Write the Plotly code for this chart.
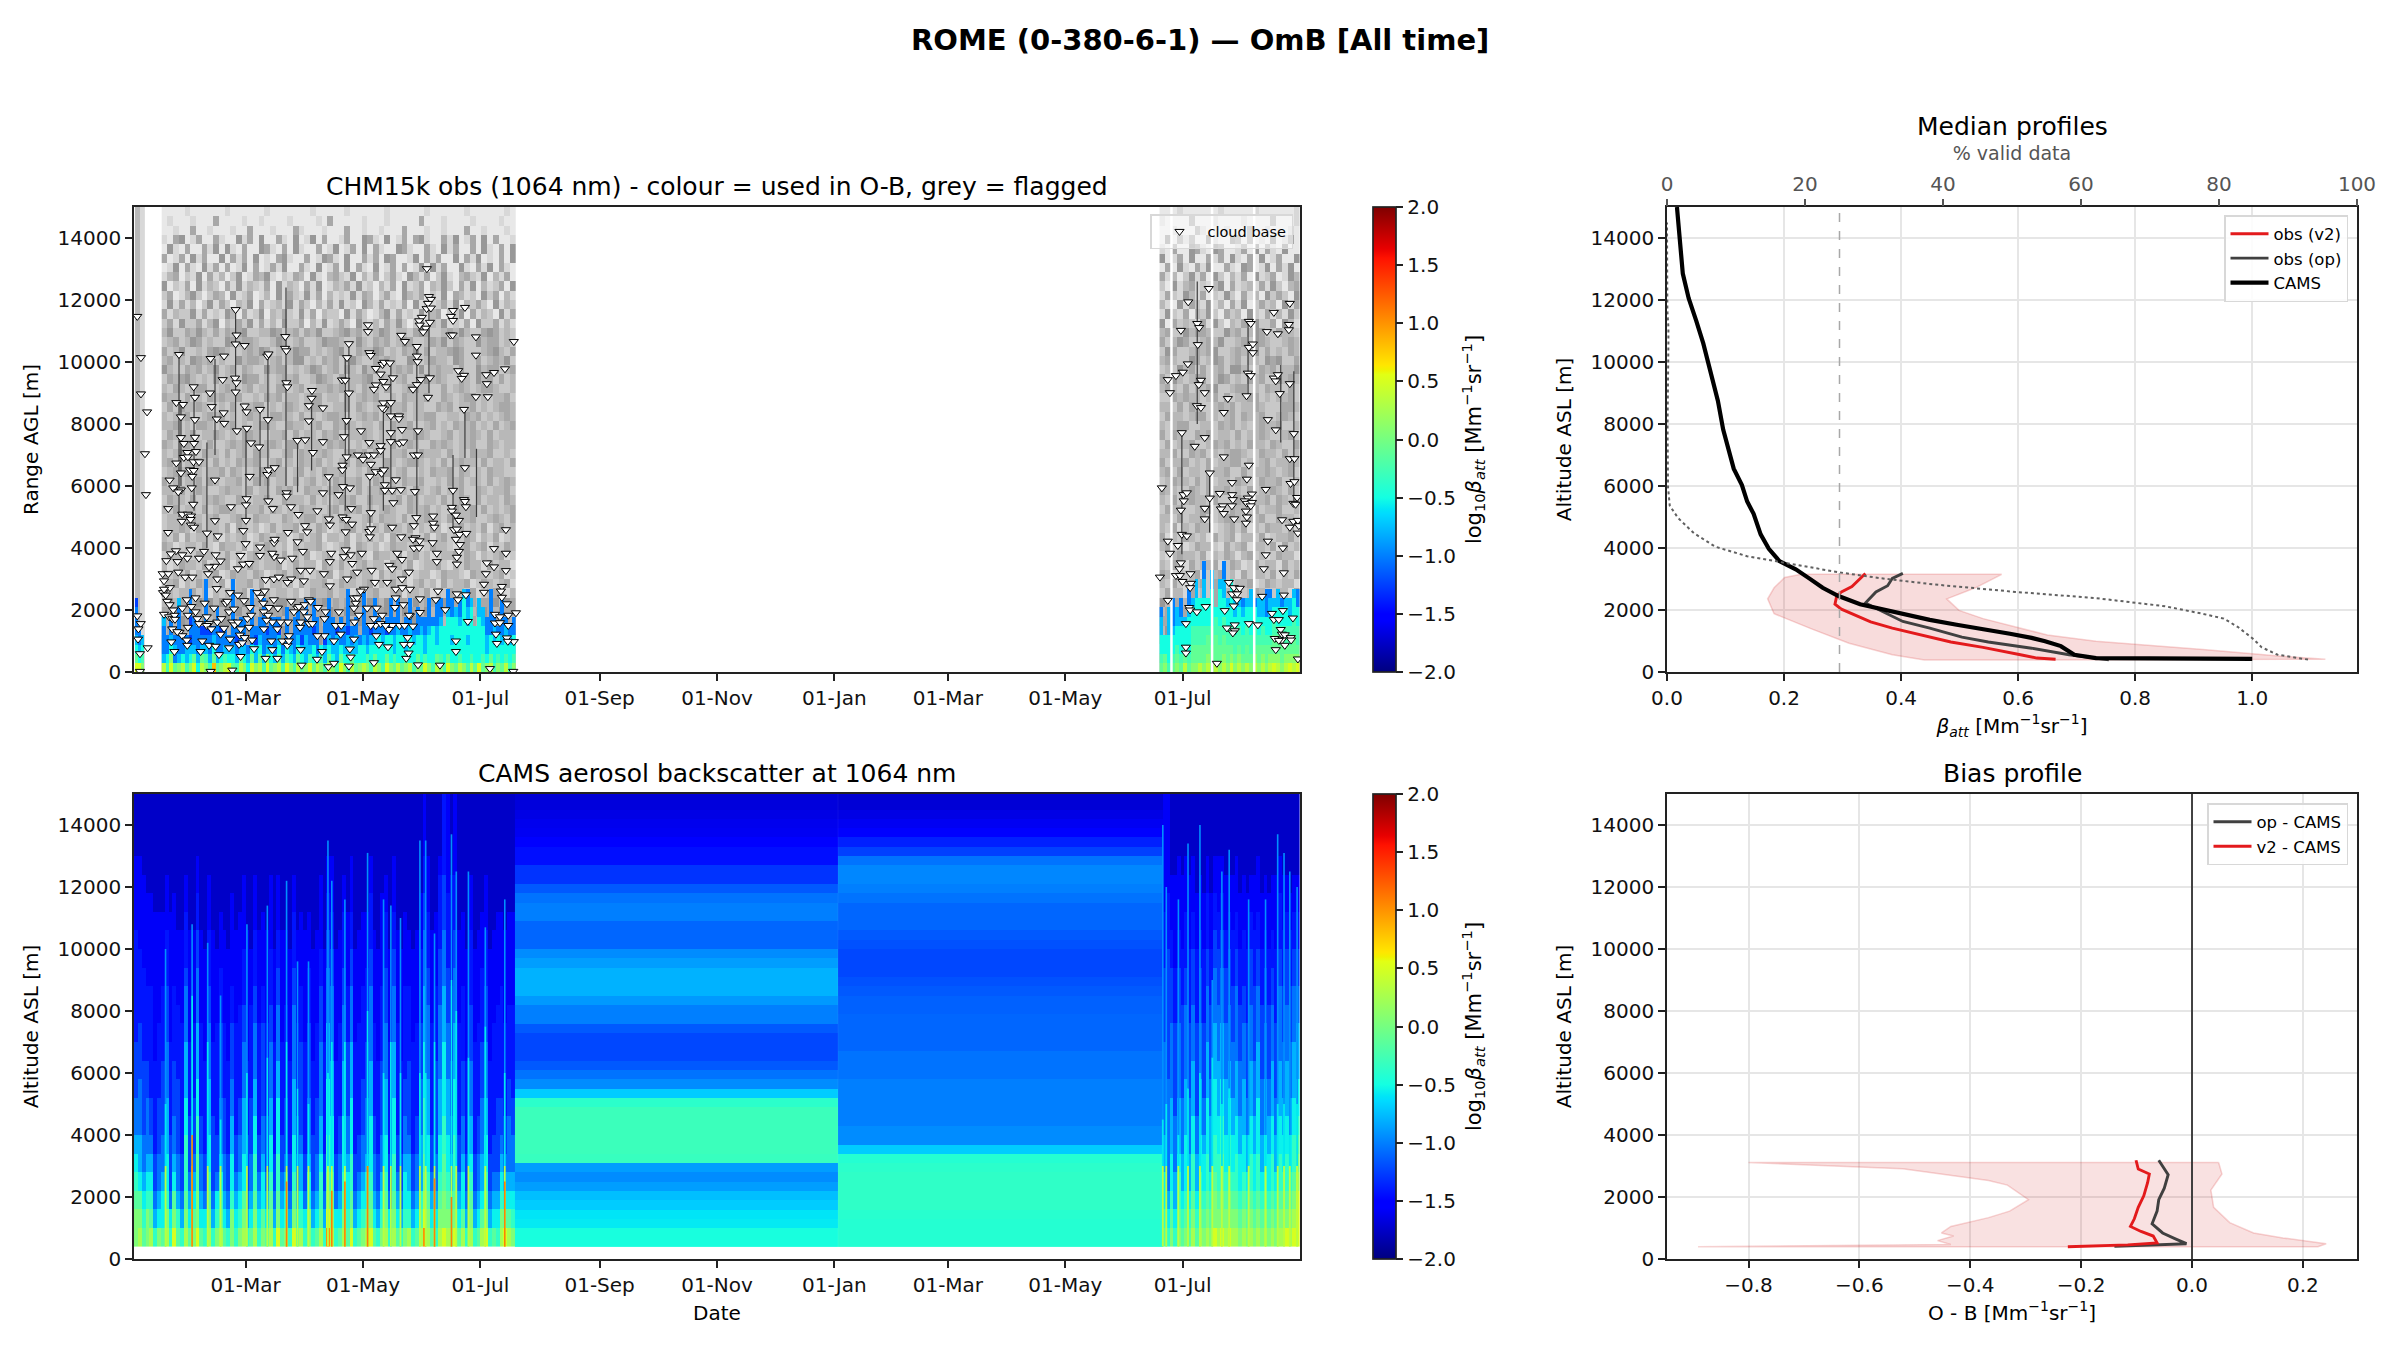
import pandas as pd
import plotly.graph_objects as go

# the page keeps its 8 px body margin, so the figure is drawn that much smaller
PAGE_W, PAGE_H, BODY = 2400, 1350, 8
W, H = PAGE_W - 2 * BODY, PAGE_H - 2 * BODY
START = pd.Timestamp("2022-01-02")
END = pd.Timestamp("2023-08-31")

DATE_TICKS = ["2022-03-01", "2022-05-01", "2022-07-01", "2022-09-01", "2022-11-01",
              "2023-01-01", "2023-03-01", "2023-05-01", "2023-07-01"]
ALT_TICKS = [0, 2000, 4000, 6000, 8000, 10000, 12000, 14000]
CBAR_TICKS = [-2.0, -1.5, -1.0, -0.5, 0.0, 0.5, 1.0, 1.5, 2.0]

# log10 beta codes used in the column strings below
USED_CODES = dict(zip("0123456789abc",
                      [-2.0, -1.75, -1.5, -1.25, -1.0, -0.75, -0.5, -0.25, -0.1, 0.1, 0.35, 0.5, 0.8]))
CAMS_CODES = dict(zip("0123456789abc",
                      [-1.75, -1.58, -1.42, -1.25, -1.05, -0.8, -0.55, -0.35, -0.15, 0.05, 0.25, 0.5, 1.0]))

# flagged obs, grey shade, 300 m cells, estimated by eye: first 62 chars Jan-Jul block, last 24 the second summer
# rows go bottom to top
grey_rows = [
    "43544354534435445345344553434544353454435345434553443543544534" "354435443534455343543545",
    "35434544354345534543543445353445435354453434554345354434535443" "453543454354345544353443",
    "44353543445354434535443543453544345543435534453543454435345354" "344535344545343534454354",
    "53443454353445345344553434454354345435543445345453434535443453" "543454453435443545343454",
    "34543543544343553443454535344354534434554354343545445343543544" "354354345544353443545434",
    "43354435345534434543534454343545435443534345544353435443545343" "445343534454345353444535",
    "44533543443545343534454353443543553443454354435344535434543544" "343545443534554343544353",
    "35344354535434544343553443545343445354353443534455343543445354" "534434535443545345343454",
    "33233423132323412332332312433423313234223413324132433241234313" "243314232433412343223314",
    "23413243324123342413323142334124332341324231342314233412432341" "324213342431233412432331",
    "42324132341243324312342431233413242331423241233124332143323412" "431323412342314233241324",
    "31243324123413243233412423314324213423314324123342132433142331" "324314233412431242331423",
    "24331243312423134233241324123413324214332413423123342431323412" "213433241324313423124331",
    "43123324214332413243231423342123414323124332412433213423413243" "342312433214234133241423",
    "32414233241323412432331242341332413242314233124134232431324123" "413243231423413324123342",
    "23343142332414323124233413243123442313243324132431234232413423" "324132433123424132433241",
    "23342432342234324332243234423324322342433242234332423342234324" "332423342234432334224332",
    "32423324234432233424323243322342434232343224334232243342423234" "243322344232433242334223",
    "24332423343224323342243332423234342243323424323324234324233243" "324234332422343233424324",
    "33242343223433242332434224332343224233434232432342334224323342" "433224324334232423343242",
    "42323342432334224342332423423243334224323243342232434233242343" "234332424233243224334223",
    "23434232334243223424332342324334223243342342232433424323243322" "342423324334224233432342",
    "34223343242324334223423243342323424332243234432324234332423324" "423342324233442323423343",
    "32343224332423424332234243234322343424323342243332423243342232" "334224342323443224332423",
    "43234332422343423234324423332434223243324234322434323342243233" "242334223434232433243224",
    "24323423343232443223342423324342233432324233443223423343242333" "424322434233242334322342",
    "33423244323342323443224332342243432332424334223423243342324234" "323442233243423234334223",
    "32334223434232343224433242323443223434232432334422332434232343" "243323442323424334223432",
    "24243343223242334423234323442233424323243342332243423342323443" "332424322343423343222443",
    "43324232434334223243423323442332423434223243334224323442323342" "224343323424233442323342",
    "32432344223432342332442342233434232433242234433224234323443223" "343242334522344232433242",
    "24345323242332544232343422354324233452432342235343224325342423" "425323442354232434225343",
    "53224342352342432253442323542342432534223434252343324225344234" "232534242342553224342335",
    "34232543423225344323423552324342353224343225423433254224234352" "343225423542342332545224",
    "42352232454322343542323544232345224335423243524233454222345324" "254223434522343352423243",
    "23423542322543443223542342235443225324342354223435243225344232" "423542234352234254322343",
    "35224353242434522335423424352234534223542332454223435322454232" "342253443225342354224332",
    "24152241350324251413152240315124205213142520240325121405224131" "504232141520324152240531",
    "41322514121530412503242151403220514201351412151340225041320514" "152140325204230521413152",
    "15141302514203250412315142031415120531412140513124150324205132" "310514215130415024230514",
    "24013520243051240130514215140312151430241053240215043120524031" "142153140215204130524205",
    "50214051320415132140513204150132415120314051240325204150312405" "205134121350412314152034",
    "13402150413025014351021430510342150314024105314025103421503140" "413025140520314051240153",
    "01504105140401504014150041050140504105014040150514005104150410" "040510415004105401504150",
    "40140514005041405010451004015410500414054001504140050415010405" "501405004140510405014005",
    "05104004150510400541040510040150140504100541004105140040510405" "104005410540014050410500",
    "10450140041005140500410501504001400541050140451004150140504001" "050414005100540401050140",
    "00100400100010040001000410001000400100100040001001000400100010" "001000410001000400100010",
    "01000100040000100100001000010400000100010000040001000010000100" "100004000100001000040001",
    "00001000000100000010000000100000100000010000001000000100000010" "000100000010000010000001",
]
# used obs, colour code by column, bottom to top, 300 m cells; the rest stays grey
used_stub = ["b8654443", "b6544", "9765"]
used_a = [
    "a54445", "7644", "b96544", "8454", "95444445", "a644", "7554", "965343444",
    "b85444", "65444", "a8543", "9754344444", "75443", "c8654", "8544444", "96443",
    "a7544", "b654", "8654444444", "75434", "a85444", "965344", "654", "b86444444",
    "95534", "a86544", "75444444", "b9543", "865444", "954444", "a86534", "754",
    "b764444", "9654", "754444", "a865444", "86534", "95554444", "b7544", "86643444",
    "a54444", "976", "755344", "a8654444", "965444", "75553", "b86444", "96544",
    "765534444", "a8544", "865544", "9664", "a66544444", "97544", "76653", "a8654444",
    "966644", "76654", "b86634", "96664444", "875544", "a6665444", "86664", "975544",
    "a6665444", "76654", "9866444", "866654", "b75544", "96665444", "766664", "a8655444",
    "97666544", "76666", "b86666544", "96656644", "8666665", "a7666544", "966666665", "766565544",
    "a7666665", "86666", "b6666655", "8766655", "965544", "a86644444", "766554", "97664",
    "86654444", "a76654", "76654", "976644",
]
used_b = [
    "8766554", "9866", "7666555", "87665444", "9876655", "87666544", "a87665", "876666544",
    "98877665", "9887766655", "a8877666", "988776665544", "a9887666", "98877666655", "a888776", "9887766665",
    "a98877665544", "98877665", "b987766666", "98776655", "a9877665", "98776654", "a8877665", "987766655",
    "a9877664", "98876655", "a9877655", "988766444", "a98766554", "b9887765", "a98876655", "98877664",
    "a9877665", "b9877655", "a98877665", "b98776644",
]
# dark columns seen below clouds: day, bottom and top altitude in m
streak_day = [23.4, 24.4, 31.2, 37.9, 42.1, 52.8, 58.2, 65.5, 69.6, 79.0, 85.0, 92.3, 101.8, 109.8, 111.7, 122.6, 129.6,
              133.5, 147.0, 153.3, 165.8, 172.0, 178.0, 544.6, 552.6, 559.0, 579.0, 596.0, 602.8]
streak_bot = [5000, 6000, 5200, 4000, 7000, 7800, 4800, 6000, 5500, 6000, 5800, 6500, 4800, 5200, 7000, 4500, 5200,
              5800, 4800, 9000, 4500, 6900, 5000, 3800, 8000, 4500, 8900, 7400, 5500]
streak_top = [10200, 8700, 9200, 7400, 10100, 11700, 7800, 8500, 10200, 12400, 7400, 8900, 6300, 10100, 10600, 6300, 8700,
              10000, 10500, 12100, 7000, 8500, 7200, 7700, 12600, 6400, 11300, 9900, 9700]
white_days = [6.3, 539.2, 560.3, 582.2]
# CAMS noisy blocks, code by column, bottom to top, 600 m cells from 400 m
cams_a = [
    "9987654433322222211110", "a986554443332222111110", "8765443333222221111100", "9976544433222211111000",
    "a876543322222211111000", "7543322222111111110000", "9654433322221111110000", "8665443333222211110000",
    "a976655544433322211100", "7643332222211111110000", "b986544333222211111000", "8754433332222111100000",
    "7543322222221111100000", "a987776655544432221100", "8654333222211111100000", "9865433322221111100000",
    "b998877665554443322110", "8654433222221111100000", "7643322222111111000000", "a987665554443322211100",
    "7543333222211111100000", "9764332222221111000000", "a876544433332221110000", "8654433322221111100000",
    "7543322222111111000000", "9976655443332211111000", "7654332222221111100000", "9765443322222111110000",
    "a986655544433222111100", "7543332222111111100000", "8654433322222111000000", "a987766554443322211100",
    "7654332222221111100000", "9866544333332211110000", "8654333222221111100000", "a987665544433222111100",
    "7543322222211111000000", "b987766655444332211100", "8654332222211111100000", "9765433322222111100000",
    "7543322222111111000000", "b987665554444332221100", "8654433222221111100000", "a765543333322211110000",
    "7643322222211111100000", "9966544433332221110000", "7543332222111111000000", "8654433322221111100000",
    "a877655444433322111100", "7543322222211111000000", "cb98776665554443322110", "a987666555444433221110",
    "7643322222111111000000", "8654433222221111100000", "a987666555444332221100", "8766544333322211110000",
    "b987766655544433221110", "7543322222211111000000", "8654332222221111100000", "9765443332222211110000",
    "a866544433322221110000", "b987666555444433222110", "8654433222221111100000", "7543322222111111000000",
    "9765443333222211111000", "a987665554443332221100", "7643322222211111000000", "a987766655544433221110",
    "8654332222221111100000", "7543322222111111000000", "9766544332222211110000", "a765543333222211100000",
    "7543322222211111000000", "8654433222221111100000", "a875554443332222111000", "cba9877766655544433221",
    "a987665554444332221110", "8654332222221111100000", "7654433333222211110000", "a987665554444333222210",
    "b998877666655544433322", "a987665554443332222111", "9765544333222211111100", "b987776665554443322211",
    "8654332222221111100000", "a866544333222211110000", "7543322222111111000000", "a987655444333222211100",
    "7543322222211111000000", "8654433222221111100000", "a865544433322221110000", "b987665544433322211100",
    "7543322222111111000000", "8654332222221111100000", "7654333322222111110000", "a976543322222211110000",
    "b865433222221111100000", "a865444332222111110000", "9765443322222111110000",
]
cams_b = [
    "8766554444433332221111", "7654444443333333222111", "9876655544443332211100", "7655444333332221111100",
    "9877655544443332211110", "8765544433333222111100", "9876665554444332221110", "8765544433332222111100",
    "a987766555444333221110", "8765544333332222111000", "a987665554443332211100", "9876654433332222111000",
    "a987766655544433222110", "9876555443333222111000", "b998776665554443322110", "a987766555444333221110",
    "b998877665554443322110", "a987665554443332211100", "b998776655444333221100", "a987665544433322211100",
    "a987766555444433221110", "9876655444333222111000", "a987665554443322211100", "9876554433332222111000",
    "a987766555444333221100", "9876655444333322211100", "a987766655544433221110", "9876554443333222111000",
    "a987665554443332211100", "9876655443333222111000", "a987766555444332211100", "9876554433332222111100",
    "a987766555444433222110", "a987665544433322211100", "b987766555444333221100", "a987665544433322211000",
    "ba98776655544433221100", "bbba987665554433221100",
]
# thin CAMS plumes: day, top of the bright part and top of the whole plume in m
spike_day = [16.4, 30.2, 38.3, 45.0, 58.7, 69.3, 79.3, 85.0, 90.7, 100.8, 102.8, 109.6, 121.4, 129.7, 133.5, 138.5, 148.6, 151.6, 156.2, 165.0, 167.5, 173.8, 182.6, 192.7,
             534.7, 536.5, 542.8, 547.8, 554.0, 560.4, 565.4, 569.2, 579.3, 588.1, 594.4, 597.7, 600.7, 604.5]
spike_mid = [5000, 8500, 7000, 4500, 6000, 6500, 7000, 5500, 5000, 6000, 7000, 7000, 8000, 6000, 7000, 6000, 6000, 6000, 7000, 9000, 8000, 6500, 7500, 6000,
             4500, 5000, 4000, 5500, 6000, 6500, 5000, 5500, 4000, 4000, 5000, 5000, 4000, 5000]
spike_top = [10000, 10800, 10200, 8500, 10800, 11400, 12200, 9600, 9600, 13500, 12200, 11600, 13100, 11600, 11400, 11000, 13500, 13500, 10500, 13700, 12500, 12500, 10700, 11600,
             14000, 12000, 11600, 13400, 14000, 9000, 12500, 13200, 11600, 11600, 13700, 13100, 12500, 12000]
core_day = [30.2, 79.3, 102.8, 109.6, 121.4, 156.2, 165.0, 192.7]
core_top = [4000, 2500, 2200, 2500, 3000, 2600, 2000, 2500]
# CAMS flat months, one value per 300 m cell from 400 m
cams_flat_a = [-0.48, -0.48, -0.58, -0.6, -0.7, -0.75, -0.88, -0.95, -0.88, -0.32, -0.3, -0.3, -0.3, -0.3, -0.3, -0.38, -0.7,
               -0.95, -1.05, -1.15, -1.22, -1.22, -1.22, -1.15, -1.0, -1.0, -0.9, -0.8, -0.8, -0.8, -0.88, -0.95, -1.1, -1.1,
               -1.1, -1.0, -1.0, -1.05, -1.15, -1.3, -1.3, -1.45, -1.45, -1.55, -1.6, -1.62, -1.65, -1.68, -1.7]
cams_flat_b = [-0.42, -0.42, -0.42, -0.4, -0.36, -0.36, -0.36, -0.36, -0.38, -0.42, -0.7, -0.95, -0.95, -1.0, -1.0, -1.0, -1.0,
               -1.0, -1.05, -1.05, -1.05, -1.1, -1.1, -1.1, -1.1, -1.12, -1.12, -1.15, -1.18, -1.22, -1.22, -1.22, -1.18, -1.15,
               -1.1, -1.1, -1.1, -1.05, -1.0, -0.97, -0.97, -1.05, -1.25, -1.38, -1.5, -1.6, -1.65, -1.7, -1.72]

# cloud base markers: days since START and altitude in km
cloud_day = [1.7, 3.6, 3.6, 6.8, 5.7, 6.2, 7.1, 23.4, 39.8, 46.8, 52.8, 53.3, 52.8, 57.5, 78.6, 78.5, 79.2, 69.3, 69.9, 46.1, 52.5, 53.3, 52.8, 31.0, 31.7, 39.5, 22.0, 25.5, 40.4, 24.4, 31.7, 43.0, 46.6, 46.9, 57.5, 58.5, 58.7, 53.5, 65.5, 69.6, 79.2, 79.7, 92.5, 92.3, 90.9, 90.9, 98.2, 24.4, 31.7, 25.9, 31.2, 27.7, 32.2, 25.9, 28.0, 30.9, 33.8, 22.0, 29.1, 31.0, 24.4, 30.3, 18.5, 42.1, 20.4, 30.0, 24.4, 23.0, 30.8, 17.8, 25.1, 28.0, 29.6, 29.4, 24.8, 29.6, 31.2, 42.1, 17.7, 37.9, 43.5, 56.8, 58.2, 58.5, 58.2, 50.4, 60.1, 60.8, 65.0, 84.9, 89.0, 98.2, 93.0, 69.3, 70.0, 73.1, 69.8, 72.2, 79.3, 79.3, 81.6, 85.4, 88.9, 90.0, 95.3, 80.0, 98.2, 101.2, 101.3, 101.8, 106.3, 108.4, 108.3, 110.5, 109.1, 110.5, 108.1, 109.8, 110.7, 111.7, 111.7, 118.0, 121.6, 121.6, 122.3, 123.0, 125.7, 129.2, 130.0, 133.0, 134.6, 128.2, 129.6, 125.7, 124.7, 131.0, 129.6, 130.0, 129.0, 133.5, 133.5, 137.7, 137.7, 133.5, 139.3, 133.5, 138.0, 139.9, 122.3, 128.2, 128.2, 116.4, 119.0, 121.9, 124.7, 123.1, 125.6, 128.7, 129.9, 122.6, 136.1, 130.4, 130.4, 134.2, 138.7, 134.8, 123.1, 112.9, 112.2, 108.6, 108.4, 110.3, 113.3, 110.0, 122.3, 123.3, 122.6, 134.2, 138.9,
             138.9, 140.8, 147.0, 147.0, 147.4, 149.1, 147.0, 145.0, 147.6, 145.5, 147.6, 146.0, 146.7, 145.5, 146.3, 145.0, 148.4, 145.5, 148.2, 152.2, 153.3, 154.3, 152.8, 152.1, 154.3, 149.6, 148.2, 153.8, 148.5, 151.6, 150.3, 153.8, 152.8, 165.8, 164.7, 165.8, 172.0, 164.4, 165.6, 177.7, 177.7, 168.5, 171.5, 170.3, 183.0, 183.4, 187.1, 192.8, 197.4, 177.7, 183.9, 171.5, 172.0, 165.8, 171.5, 172.0, 172.5, 165.2, 165.2, 167.3, 155.5, 155.5, 156.1, 168.9, 166.3, 167.8, 169.2, 172.7, 193.3, 167.3, 169.4, 155.2, 168.9, 157.4, 157.4, 167.8, 167.8, 187.1, 193.3, 183.4, 187.1, 193.3, 182.9, 181.9, 181.9, 172.5, 167.8, 168.4, 158.0, 156.9, 161.8, 191.2, 190.7, 191.2, 193.8, 198.5, 187.6, 190.2, 194.5, 187.6, 190.2, 194.5, 188.1, 188.6, 193.8, 197.4, 194.3, 173.5, 167.3, 167.3, 159.0, 147.6, 185.0, 197.1, 141.5, 142.7, 143.4, 142.2, 140.3, 145.0, 148.6, 148.6, 143.4, 140.0, 143.4, 139.3, 142.9, 139.3, 136.8, 132.7, 134.2, 131.6, 136.0, 135.6, 138.0, 134.2, 132.5, 132.0, 127.3, 125.9, 129.0, 124.7, 125.2, 123.5, 119.5, 116.0, 118.4, 110.8, 112.6, 113.4, 110.0, 109.1, 102.5, 101.8, 98.7, 101.8, 95.6, 99.6, 99.0, 106.5, 107.4, 103.9, 99.0, 95.3, 97.7, 95.1, 101.0, 103.9, 111.7, 112.6, 112.2, 114.3, 114.6, 115.2,
             86.6, 91.5, 88.3, 81.7, 82.3, 87.8, 85.0, 79.7, 76.2, 72.8, 71.9, 65.5, 65.5, 72.8, 73.1, 58.0, 55.4, 56.8, 59.9, 54.0, 45.0, 42.4, 41.9, 39.0, 36.4, 33.8, 29.4, 27.7, 25.1, 21.8, 19.2, 16.8, 22.6, 23.0, 14.9, 17.8, 15.6, 15.1, 18.7, 26.6, 30.3, 38.5, 43.3, 43.0, 68.4, 72.7, 75.3, 49.9, 54.0, 57.2, 64.1, 67.9,
             15.6, 17.3, 18.2, 19.9, 21.1, 19.9, 23.6, 19.4, 21.0, 25.1, 27.4, 27.7, 28.0, 28.0, 32.0, 32.9, 35.5, 34.6, 37.8, 39.0, 41.6, 39.0, 42.4, 44.2, 45.0, 47.6, 49.4, 52.0, 49.9, 49.4, 51.1, 55.0, 54.6, 55.4, 57.5, 58.9, 60.9, 61.4, 62.4, 67.5, 69.7, 71.9, 67.5, 74.5, 71.4, 71.9, 68.4, 74.5, 77.1, 79.7, 80.5, 80.0, 84.9, 86.6, 86.6, 87.1, 91.0, 88.3, 90.9, 104.8, 107.7, 114.3, 124.7, 125.6, 117.8, 51.1, 3.1, 39.8, 3.1, 1.7, 3.5, 2.3, 2.1,
             15.6, 16.5, 18.5, 20.4, 21.3, 22.5, 25.1, 27.4, 29.8, 32.0, 33.8, 36.7, 37.8, 40.2, 43.3, 45.4, 46.8, 48.5, 52.3, 54.0, 55.4, 56.3, 59.8, 60.3, 65.8, 67.2, 68.9, 70.1, 72.7, 74.8, 76.2, 80.5, 81.7, 83.1, 85.7, 88.7, 90.1, 91.8, 86.3, 92.7, 114.3, 116.9, 116.0, 126.1, 128.2, 136.0, 139.4, 142.9, 140.6, 130.8, 123.0, 121.2,
             534.2, 533.2, 537.3, 538.4, 537.3, 538.4, 537.3, 541.5, 545.1, 544.1, 547.9, 547.7, 544.6, 545.5, 547.2, 545.6, 544.1, 544.6, 547.2, 542.5, 544.1, 543.4, 541.5, 543.6, 544.9, 549.1, 549.3, 548.9, 546.7, 548.4, 548.9, 546.7, 546.7, 552.4, 557.0, 552.6, 553.6, 552.9, 554.5, 553.4, 556.5, 552.4, 554.5, 558.6, 556.5, 551.3, 559.1, 559.1, 556.5, 556.5, 562.8, 564.3, 565.9, 564.9, 566.4, 568.5, 566.4, 566.4, 570.7, 570.7, 571.1, 570.6, 571.8, 569.0, 571.6, 574.7, 570.7, 573.3, 573.2, 571.6, 566.9, 568.0, 572.1, 572.1, 571.1, 579.4, 584.1, 586.3, 587.2, 588.2, 589.3, 588.2, 578.2, 578.9, 580.4, 579.4, 581.5, 581.5, 579.4, 580.4, 579.4, 578.4, 581.0, 578.9, 577.3, 578.4, 581.0, 580.4, 577.9, 578.4, 577.9, 588.8, 592.4, 594.5, 600.2, 600.2, 600.7, 592.4, 593.4, 594.5, 600.7, 595.5, 589.3, 593.4, 602.8, 600.7, 603.1, 601.1, 603.1, 604.5, 602.6, 603.7, 596.7, 602.6, 604.9, 605.4, 600.7, 604.9, 597.1, 597.6, 597.6, 597.1, 591.4, 592.4, 595.0, 602.3, 596.0, 596.6, 598.1, 592.9, 596.6, 595.0, 598.1, 593.4, 601.2, 601.4, 604.9]
cloud_km = [11.47, 10.14, 8.97, 8.39, 7.04, 5.72, 0.78, 10.24, 10.11, 10.19, 11.69, 10.87, 10.58, 10.53, 10.82, 10.44, 10.36, 10.19, 10.26, 9.43, 9.48, 9.33, 9.03, 9.2, 8.86, 9.0, 8.69, 8.63, 8.56, 8.23, 8.14, 8.16, 8.36, 8.02, 8.58, 8.39, 7.86, 7.78, 8.47, 8.14, 9.33, 9.2, 9.08, 8.83, 8.59, 8.1, 8.52, 7.56, 7.57, 7.37, 7.37, 7.08, 7.11, 6.92, 6.94, 6.78, 6.78, 6.74, 6.52, 6.5, 6.42, 6.31, 6.19, 6.19, 5.94, 5.94, 5.87, 5.81, 5.41, 5.27, 5.09, 5.09, 5.03, 4.92, 4.86, 4.74, 4.67, 4.88, 4.5, 4.48, 4.39, 4.56, 4.89, 5.59, 5.39, 5.33, 6.31, 7.39, 7.26, 7.47, 7.49, 7.43, 7.08, 6.37, 6.52, 6.59, 5.52, 5.27, 5.78, 5.67, 5.33, 5.08, 4.72, 4.52, 5.2, 4.5, 5.78, 6.3, 4.94, 4.74, 5.72, 6.67, 6.52, 6.94, 7.59, 8.11, 9.42, 9.41, 10.14, 10.59, 9.0, 7.78, 11.2, 10.98, 10.3, 10.21, 9.79, 9.92, 9.99, 9.97, 9.49, 9.61, 9.37, 9.26, 9.12, 9.2, 8.68, 8.48, 8.52, 8.69, 8.26, 8.26, 8.17, 7.72, 7.82, 7.43, 7.38, 7.42, 7.4, 7.3, 7.14, 7.0, 6.86, 7.0, 7.0, 6.7, 6.46, 6.41, 6.52, 6.31, 6.2, 6.04, 5.86, 5.86, 5.88, 5.46, 5.14, 5.27, 5.94, 5.98, 5.0, 4.92, 4.77, 4.52, 4.53, 4.62, 4.36, 4.67, 4.36,
            10.86, 10.66, 10.5, 10.19, 10.01, 9.43, 9.27, 9.12, 7.78, 7.0, 7.0, 5.82, 4.98, 4.72, 4.33, 4.28, 4.23, 4.0, 4.01, 13.01, 12.11, 12.02, 11.89, 11.72, 11.74, 11.44, 11.33, 11.28, 11.19, 11.09, 10.97, 9.49, 8.86, 11.66, 11.47, 11.34, 11.76, 10.87, 10.87, 10.81, 10.22, 9.72, 9.57, 9.47, 9.59, 9.3, 9.66, 9.78, 10.66, 8.88, 8.88, 8.47, 6.59, 5.86, 5.56, 5.5, 5.33, 5.31, 5.19, 5.06, 5.03, 4.8, 4.67, 4.89, 4.59, 4.61, 4.44, 4.47, 4.59, 4.28, 4.11, 4.17, 3.89, 3.83, 3.56, 3.7, 3.48, 3.98, 3.83, 3.52, 3.39, 3.27, 3.17, 2.83, 2.57, 2.49, 2.52, 2.33, 2.61, 2.33, 2.01, 2.76, 2.61, 2.41, 2.2, 1.91, 1.86, 1.78, 1.83, 1.58, 1.59, 1.5, 1.22, 0.92, 1.1, 0.98, 0.99, 1.63, 1.0, 0.66, 0.22, 0.23, 0.11, 0.02, 0.44, 0.61, 0.89, 1.11, 0.89, 1.48, 1.92, 2.36, 1.81, 2.17, 2.67, 3.0, 3.22, 3.63, 3.83, 3.44, 3.33, 2.89, 2.67, 2.08, 1.5, 1.5, 1.37, 0.81, 0.89, 1.17, 1.83, 0.3, 2.89, 3.28, 2.67, 3.22, 3.83, 3.0, 3.78, 3.5, 3.94, 3.72, 3.83, 3.56, 3.17, 2.78, 2.08, 1.94, 1.72, 1.94, 1.22, 1.0, 1.17, 1.17, 0.66, 0.41, 0.17, 0.28, 0.19, 0.48, 0.74, 1.06, 1.61, 2.22,
            3.28, 3.28, 2.94, 3.0, 3.67, 3.89, 4.2, 2.89, 3.61, 3.72, 3.83, 4.03, 3.76, 4.17, 4.28, 4.14, 3.76, 3.48, 3.5, 3.33, 3.58, 3.78, 3.41, 3.39, 3.89, 3.67, 3.94, 3.67, 3.78, 3.91, 3.81, 3.59, 3.56, 3.22, 3.17, 3.17, 2.94, 2.56, 2.72, 3.06, 3.06, 3.17, 3.0, 2.69, 2.98, 3.0, 3.06, 2.56, 2.48, 2.3, 2.56, 2.61,
            1.86, 2.28, 1.78, 1.72, 1.83, 1.39, 1.28, 0.97, 0.66, 1.17, 1.03, 0.86, 1.83, 1.44, 2.39, 1.72, 1.0, 0.66, 1.78, 1.56, 2.06, 0.86, 0.83, 0.56, 1.22, 2.22, 1.94, 2.03, 1.06, 0.78, 1.61, 1.19, 0.89, 0.5, 1.11, 1.72, 1.83, 1.03, 0.75, 1.94, 1.83, 1.61, 1.39, 1.39, 1.0, 0.72, 0.44, 0.44, 1.0, 0.86, 1.17, 1.61, 2.06, 1.61, 0.72, 0.22, 1.56, 1.94, 2.33, 1.5, 1.5, 2.39, 1.72, 1.5, 2.61, 0.06, 0.02, 0.02, 0.59, 1.81, 1.56, 1.39, 1.06,
            2.67, 2.48, 2.17, 2.0, 1.7, 1.3, 2.06, 2.33, 2.11, 1.94, 1.56, 2.22, 1.5, 1.39, 1.61, 1.72, 1.41, 2.28, 1.52, 1.61, 1.39, 0.94, 1.44, 2.08, 2.41, 2.22, 1.67, 2.08, 2.33, 2.06, 1.61, 1.0, 2.28, 1.94, 2.11, 2.17, 1.78, 2.28, 1.44, 1.56, 2.06, 1.83, 2.39, 2.06, 1.56, 2.39, 2.72, 1.83, 1.5, 1.5, 1.5, 2.06,
            5.94, 3.06, 9.43, 9.01, 4.22, 3.83, 2.31, 9.56, 9.67, 11.02, 11.94, 9.94, 7.72, 5.72, 5.78, 5.52, 5.22, 4.44, 4.39, 4.08, 3.52, 3.33, 3.11, 3.11, 2.92, 3.17, 2.86, 2.72, 1.56, 2.08, 2.0, 0.8, 0.61, 1.94, 2.11, 11.24, 11.11, 10.56, 9.41, 9.27, 9.01, 8.59, 8.53, 12.37, 7.56, 7.28, 6.42, 5.61, 5.28, 4.94, 0.28, 5.76, 5.36, 5.26, 5.11, 8.82, 8.37, 6.94, 6.11, 5.72, 5.56, 5.36, 4.94, 2.89, 2.72, 2.7, 2.52, 2.52, 2.33, 2.13, 1.98, 1.42, 1.52, 1.33, 1.26, 1.56, 1.52, 2.44, 3.33, 3.78, 4.22, 5.89, 8.91, 9.64, 9.56, 10.47, 10.58, 10.3, 11.31, 11.24, 6.67, 6.22, 5.74, 5.61, 5.52, 5.44, 5.47, 5.36, 5.19, 5.0, 4.8, 10.98, 11.6, 10.91, 11.21, 11.04, 11.89, 9.48, 9.39, 9.59, 9.3, 8.98, 8.14, 7.81, 7.69, 6.88, 6.88, 6.08, 6.14, 5.63, 5.44, 5.41, 4.91, 4.86, 4.89, 4.72, 4.67, 4.48, 4.0, 3.2, 2.48, 1.98, 1.89, 1.69, 1.69, 1.74, 1.37, 1.22, 1.2, 1.08, 1.03, 1.02, 0.86, 0.72, 1.11, 1.03, 0.42]

# median profiles
cams_beta = [1.0, 0.824, 0.733, 0.696, 0.682, 0.673, 0.646, 0.623, 0.586, 0.531, 0.495, 0.449, 0.412, 0.366, 0.33, 0.293, 0.266, 0.243, 0.22, 0.192, 0.174, 0.16, 0.148, 0.137, 0.128, 0.114, 0.108, 0.096, 0.087, 0.076, 0.062, 0.05, 0.037, 0.027, 0.023, 0.017]
cams_alt = [424, 424, 450, 556, 729, 835, 994, 1100, 1232, 1391, 1524, 1683, 1829, 2014, 2186, 2451, 2716, 3021, 3312, 3578, 3975, 4439, 5101, 5499, 6029, 6559, 6956, 7818, 8745, 9606, 10600, 11329, 12058, 12852, 13581, 15000]
v2_beta = [0.664, 0.632, 0.604, 0.577, 0.54, 0.485, 0.458, 0.421, 0.385, 0.348, 0.316, 0.298, 0.287, 0.29, 0.298, 0.316, 0.339]
v2_alt = [410, 450, 556, 662, 795, 967, 1086, 1259, 1418, 1616, 1881, 2027, 2186, 2451, 2584, 2756, 3180]
op_beta = [0.755, 0.687, 0.623, 0.549, 0.504, 0.449, 0.403, 0.375, 0.339, 0.357, 0.377, 0.385, 0.403]
op_alt = [397, 556, 768, 967, 1126, 1418, 1630, 1881, 2226, 2584, 2782, 3021, 3180]
spread_beta = [0.572, 0.527, 0.478, 0.499, 0.54, 0.595, 0.65, 0.733, 0.824, 0.916, 1.035, 1.125, 0.44, 0.385, 0.311, 0.247, 0.183, 0.172, 0.183, 0.201, 0.229, 0.572]
spread_alt = [3150, 2716, 2358, 1987, 1722, 1457, 1192, 994, 861, 729, 530, 410, 384, 556, 927, 1391, 1881, 2358, 2716, 3047, 3150, 3150]
valid_pct = [92.9, 88.5, 86.2, 85, 82.7, 80.7, 77.6, 72.2, 62.1, 50.5, 38.8, 31.1, 24.8, 17.9, 11.6, 7, 3.9, 1.6, 0.4, 0.15, 0.08, 0.2, 0.2, 0.05, 0]
valid_alt = [400, 556, 795, 1060, 1457, 1722, 1880, 2120, 2385, 2584, 2822, 3021, 3220, 3485, 3736, 4041, 4478, 4968, 5366, 5960, 7950, 10600, 11130, 11660, 14500]
VALID_LIMIT = 25

# bias profiles
bias_v2 = [-0.224, -0.116, -0.063, -0.07, -0.092, -0.111, -0.104, -0.097, -0.087, -0.08, -0.077, -0.097, -0.101]
bias_v2_alt = [395, 457, 519, 741, 889, 1050, 1297, 1667, 2038, 2470, 2742, 2902, 3186]
bias_op = [-0.14, -0.01, -0.029, -0.053, -0.072, -0.063, -0.06, -0.05, -0.043, -0.06]
bias_op_alt = [407, 494, 642, 840, 1136, 1544, 1914, 2285, 2717, 3186]
bias_spread = [0.048, 0.054, 0.034, 0.039, 0.068, 0.111, 0.164, 0.242, 0.227, -0.891, -0.435, -0.459, -0.43, -0.452, -0.435, -0.367, -0.329, -0.295, -0.333, -0.367, -0.522, -0.657, -0.8, 0.048]
bias_spread_alt = [3112, 2742, 2223, 1667, 1173, 840, 679, 494, 395, 395, 469, 593, 741, 840, 1050, 1334, 1544, 1914, 2384, 2532, 2915, 3001, 3112, 3112]

JET = [[0.0, "#00007f"], [0.11, "#0000ff"], [0.125, "#0000ff"], [0.34, "#00dbff"], [0.35, "#00e5f7"], [0.375, "#14ffe2"],
       [0.64, "#e2ff14"], [0.65, "#f1f100"], [0.66, "#ffe600"], [0.89, "#ff1200"], [0.91, "#e80000"], [1.0, "#7f0000"]]
GREYS = [[0.0, "#e8e8e8"], [1.0, "#585858"]]
RED = "#e31a1c"
DARK = "#404040"
FONT = "DejaVu Sans"
BETA_LABEL = "log<sub>10</sub><i>β<sub>att</sub></i> [Mm<sup>−1</sup>sr<sup>−1</sup>]"
UNIT = "[Mm<sup>−1</sup>sr<sup>−1</sup>]"
SPIKE_BOTTOM = 400
SPIKE_LOW_TOP = 3000


def day_to_date(day):
    return START + pd.Timedelta(days=day)


def edges(day0, day1, n):
    return [day_to_date(day0 + (day1 - day0) * i / n) for i in range(n + 1)]


def decode(cols, n_levels, lookup, fill_last=False):
    z = [[None] * len(cols) for _ in range(n_levels)]
    for j, col in enumerate(cols):
        for i in range(n_levels):
            if i < len(col):
                z[i][j] = lookup[col[i]]
            elif fill_last:
                z[i][j] = lookup[col[-1]]
    return z


def add_grey(fig, day0, day1, rows):
    z = [[int(ch) for ch in row] for row in rows]
    fig.add_trace(go.Heatmap(x=edges(day0, day1, len(z[0])), y=[300 * i for i in range(len(z) + 1)], z=z,
                             colorscale=GREYS, zmin=0, zmax=9, showscale=False, hoverinfo="skip", xaxis="x", yaxis="y"))


def add_coded(fig, day0, day1, cols, y_edges, axis, coloraxis, codes, fill_last=False):
    z = decode(cols, len(y_edges) - 1, codes, fill_last)
    fig.add_trace(go.Heatmap(x=edges(day0, day1, len(cols)), y=y_edges, z=z, coloraxis=coloraxis, hoverinfo="skip",
                             xaxis="x" + axis, yaxis="y" + axis))


def add_verticals(fig, days, bottoms, tops, color, width, xaxis="x", yaxis="y"):
    xs, ys = [], []
    for d, y0, y1 in zip(days, bottoms, tops):
        xs += [day_to_date(d), day_to_date(d), None]
        ys += [y0, y1, None]
    fig.add_trace(go.Scatter(x=xs, y=ys, mode="lines", line=dict(color=color, width=width), showlegend=False, hoverinfo="skip",
                             xaxis=xaxis, yaxis=yaxis))


fig = go.Figure()

# top left, ceilometer obs
add_grey(fig, 14.4, 198.6, [r[:62] for r in grey_rows])
add_grey(fig, 533.0, 606.0, [r[62:] for r in grey_rows])
fig.add_trace(go.Heatmap(x=edges(0.5, 6.1, 2), y=[0, 300 * 50], z=[[3, 1]], colorscale=GREYS, zmin=0, zmax=9, showscale=False,
                         hoverinfo="skip", xaxis="x", yaxis="y"))
USED_EDGES = [300 * i for i in range(16)]
add_coded(fig, 0.5, 5.0, used_stub, USED_EDGES, "", "coloraxis", USED_CODES)
add_coded(fig, 14.4, 198.6, used_a, USED_EDGES, "", "coloraxis", USED_CODES)
add_coded(fig, 533.0, 606.0, used_b, USED_EDGES, "", "coloraxis", USED_CODES)

add_verticals(fig, streak_day, streak_bot, streak_top, "#3c3c3c", 1.2)
add_verticals(fig, white_days, [0] * len(white_days), [15000] * len(white_days), "white", 2.5)
fig.add_trace(go.Scatter(x=[day_to_date(d) for d in cloud_day], y=[k * 1000 for k in cloud_km], mode="markers", name="cloud base",
                         marker=dict(symbol="triangle-down", size=8, color="white", line=dict(color="black", width=1)),
                         legend="legend"))

# bottom left, CAMS
NOISY_EDGES = [400 + 600 * i for i in range(26)]
FLAT_EDGES = [400 + 300 * i for i in range(50)]
add_coded(fig, 0.0, 198.0, cams_a, NOISY_EDGES, "2", "coloraxis2", CAMS_CODES, fill_last=True)
add_coded(fig, 534.6, 605.6, cams_b, NOISY_EDGES, "2", "coloraxis2", CAMS_CODES, fill_last=True)
for d0, d1, col in [(198.0, 365.9, cams_flat_a), (365.9, 534.6, cams_flat_b)]:
    fig.add_trace(go.Heatmap(x=[day_to_date(d0), day_to_date(d1)], y=FLAT_EDGES, z=[[v] for v in col], coloraxis="coloraxis2",
                             hoverinfo="skip", xaxis="x2", yaxis="y2"))
n = len(spike_day)
add_verticals(fig, spike_day, spike_mid, spike_top, "#0090ff", 1.6, "x2", "y2")
add_verticals(fig, spike_day, [SPIKE_LOW_TOP] * n, spike_mid, "#00e8f0", 1.8, "x2", "y2")
add_verticals(fig, spike_day, [SPIKE_BOTTOM] * n, [SPIKE_LOW_TOP] * n, "#b8ff40", 1.8, "x2", "y2")
add_verticals(fig, core_day, [SPIKE_BOTTOM] * len(core_day), core_top, "#ff8000", 1.6, "x2", "y2")

# top right, median profiles
fig.add_trace(go.Scatter(x=spread_beta, y=spread_alt, mode="lines", fill="toself", fillcolor="rgba(214,39,40,0.16)",
                         line=dict(color="rgba(214,39,40,0.2)", width=1.5), showlegend=False, hoverinfo="skip", xaxis="x3", yaxis="y3"))
fig.add_trace(go.Scatter(x=v2_beta, y=v2_alt, mode="lines", name="obs (v2)", line=dict(color=RED, width=2.9), legend="legend2", xaxis="x3", yaxis="y3"))
fig.add_trace(go.Scatter(x=op_beta, y=op_alt, mode="lines", name="obs (op)", line=dict(color=DARK, width=2.9), legend="legend2", xaxis="x3", yaxis="y3"))
fig.add_trace(go.Scatter(x=cams_beta, y=cams_alt, mode="lines", name="CAMS", line=dict(color="black", width=4.2), legend="legend2", xaxis="x3", yaxis="y3"))
fig.add_trace(go.Scatter(x=valid_pct, y=valid_alt, mode="lines", line=dict(color="#606060", width=2, dash="dot"), showlegend=False, xaxis="x4", yaxis="y3"))
fig.add_trace(go.Scatter(x=[VALID_LIMIT, VALID_LIMIT], y=[0, 15000], mode="lines", line=dict(color="#a8a8a8", width=1.5, dash="dash"), showlegend=False, xaxis="x4", yaxis="y3"))

# bottom right, bias
fig.add_trace(go.Scatter(x=bias_spread, y=bias_spread_alt, mode="lines", fill="toself", fillcolor="rgba(214,39,40,0.14)",
                         line=dict(color="rgba(214,39,40,0.2)", width=1.5), showlegend=False, hoverinfo="skip", xaxis="x5", yaxis="y5"))
fig.add_trace(go.Scatter(x=[0, 0], y=[0, 15000], mode="lines", line=dict(color="#303030", width=1.8), showlegend=False, xaxis="x5", yaxis="y5"))
fig.add_trace(go.Scatter(x=bias_op, y=bias_op_alt, mode="lines", name="op - CAMS", line=dict(color=DARK, width=2.9), legend="legend3", xaxis="x5", yaxis="y5"))
fig.add_trace(go.Scatter(x=bias_v2, y=bias_v2_alt, mode="lines", name="v2 - CAMS", line=dict(color=RED, width=2.9), legend="legend3", xaxis="x5", yaxis="y5"))


def xf(px):
    return (px - BODY) / W


def yf(px):
    return 1 - (px - BODY) / H


AXIS = dict(showline=True, linecolor="#222222", linewidth=1.7, mirror=True, ticks="outside", ticklen=7, tickwidth=1.7, tickcolor="#222222",
            zeroline=False, showgrid=False, tickfont=dict(size=20, color="#111111"))
GRID = dict(showgrid=True, gridcolor="#e6e6e6", gridwidth=1.7)


def time_axis(anchor, title=None):
    return dict(AXIS, domain=[xf(134), xf(1300)], range=[START, END], type="date", tickvals=DATE_TICKS, tickformat="%d-%b", anchor=anchor,
                title=dict(text=title, font=dict(size=20), standoff=10) if title else None)


def alt_axis(top, bottom, title, anchor, grid=False):
    d = dict(AXIS, domain=[yf(bottom), yf(top)], range=[0, 15000], tickvals=ALT_TICKS, tickformat="d", anchor=anchor,
             title=dict(text=title, font=dict(size=20), standoff=14))
    if grid:
        d.update(GRID)
    return d


def colorbar(top, bottom):
    return dict(colorscale=JET, cmin=-2, cmax=2, colorbar=dict(
        x=xf(1373), xanchor="left", xref="paper", y=yf(bottom), yanchor="bottom", yref="paper", len=(bottom - top) / H, lenmode="fraction",
        xpad=0, ypad=0, thickness=23, thicknessmode="pixels", outlinecolor="#222222", outlinewidth=1.7, ticks="outside", ticklen=7, tickwidth=1.7, tickcolor="#222222",
        tickvals=CBAR_TICKS, tickformat=".1f", tickfont=dict(size=20, color="#111111"),
        title=dict(text=BETA_LABEL, side="right", font=dict(size=21))))


def panel_title(text, x, y, size=25):
    return dict(text=text, x=xf(x), y=yf(y), xref="paper", yref="paper", xanchor="center", yanchor="middle", showarrow=False, font=dict(size=size))


fig.update_layout(
    width=W, height=H, margin=dict(l=0, r=0, t=0, b=0, autoexpand=False), paper_bgcolor="white", plot_bgcolor="white",
    font=dict(family=FONT, color="black", size=20),
    xaxis=time_axis("y"),
    yaxis=alt_axis(207, 672, "Range AGL [m]", "x"),
    xaxis2=time_axis("y2", "Date"),
    yaxis2=alt_axis(794, 1259, "Altitude ASL [m]", "x2"),
    xaxis3=dict(AXIS, **GRID, domain=[xf(1667), xf(2357)], range=[0, 1.179], tickvals=[0, 0.2, 0.4, 0.6, 0.8, 1.0], tickformat=".1f", anchor="y3",
                title=dict(text="<i>β<sub>att</sub></i> " + UNIT, font=dict(size=20), standoff=10)),
    yaxis3=alt_axis(207, 672, "Altitude ASL [m]", "x3", grid=True),
    xaxis4=dict(domain=[xf(1667), xf(2357)], range=[0, 100], tickvals=[0, 20, 40, 60, 80, 100], overlaying="x3", side="top", anchor="y3",
                showgrid=False, zeroline=False, ticks="outside", ticklen=7, tickwidth=1.7, tickcolor="#555555", tickfont=dict(size=20, color="#555555"),
                title=dict(text="% valid data", font=dict(size=19, color="#555555"), standoff=6)),
    xaxis5=dict(AXIS, **GRID, domain=[xf(1667), xf(2357)], range=[-0.947, 0.2976], tickvals=[-0.8, -0.6, -0.4, -0.2, 0.0, 0.2], tickformat=".1f", anchor="y5",
                title=dict(text="O - B " + UNIT, font=dict(size=20), standoff=10)),
    yaxis5=alt_axis(794, 1259, "Altitude ASL [m]", "x5", grid=True),
    coloraxis=colorbar(207, 672),
    coloraxis2=colorbar(794, 1259),
    legend=dict(x=xf(1293), xanchor="right", y=yf(214), yanchor="top", bgcolor="rgba(255,255,255,0.55)", bordercolor="#d8d8d8", borderwidth=1.5,
                font=dict(size=14.5), itemwidth=46),
    legend2=dict(x=xf(2348), xanchor="right", y=yf(215), yanchor="top", bgcolor="rgba(255,255,255,0.85)", bordercolor="#d8d8d8", borderwidth=1.5,
                 font=dict(size=16.5), itemwidth=38),
    legend3=dict(x=xf(2348), xanchor="right", y=yf(803), yanchor="top", bgcolor="rgba(255,255,255,0.85)", bordercolor="#d8d8d8", borderwidth=1.5,
                 font=dict(size=16.5), itemwidth=38),
    annotations=[
        panel_title("<b>ROME (0-380-6-1) — OmB [All time]</b>", 1200, 40, 29),
        panel_title("CHM15k obs (1064 nm) - colour = used in O-B, grey = flagged", 717, 186),
        panel_title("CAMS aerosol backscatter at 1064 nm", 717, 773),
        panel_title("Median profiles", 2012, 126),
        panel_title("Bias profile", 2012, 773),
    ],
)

fig.write_html("out.html")
